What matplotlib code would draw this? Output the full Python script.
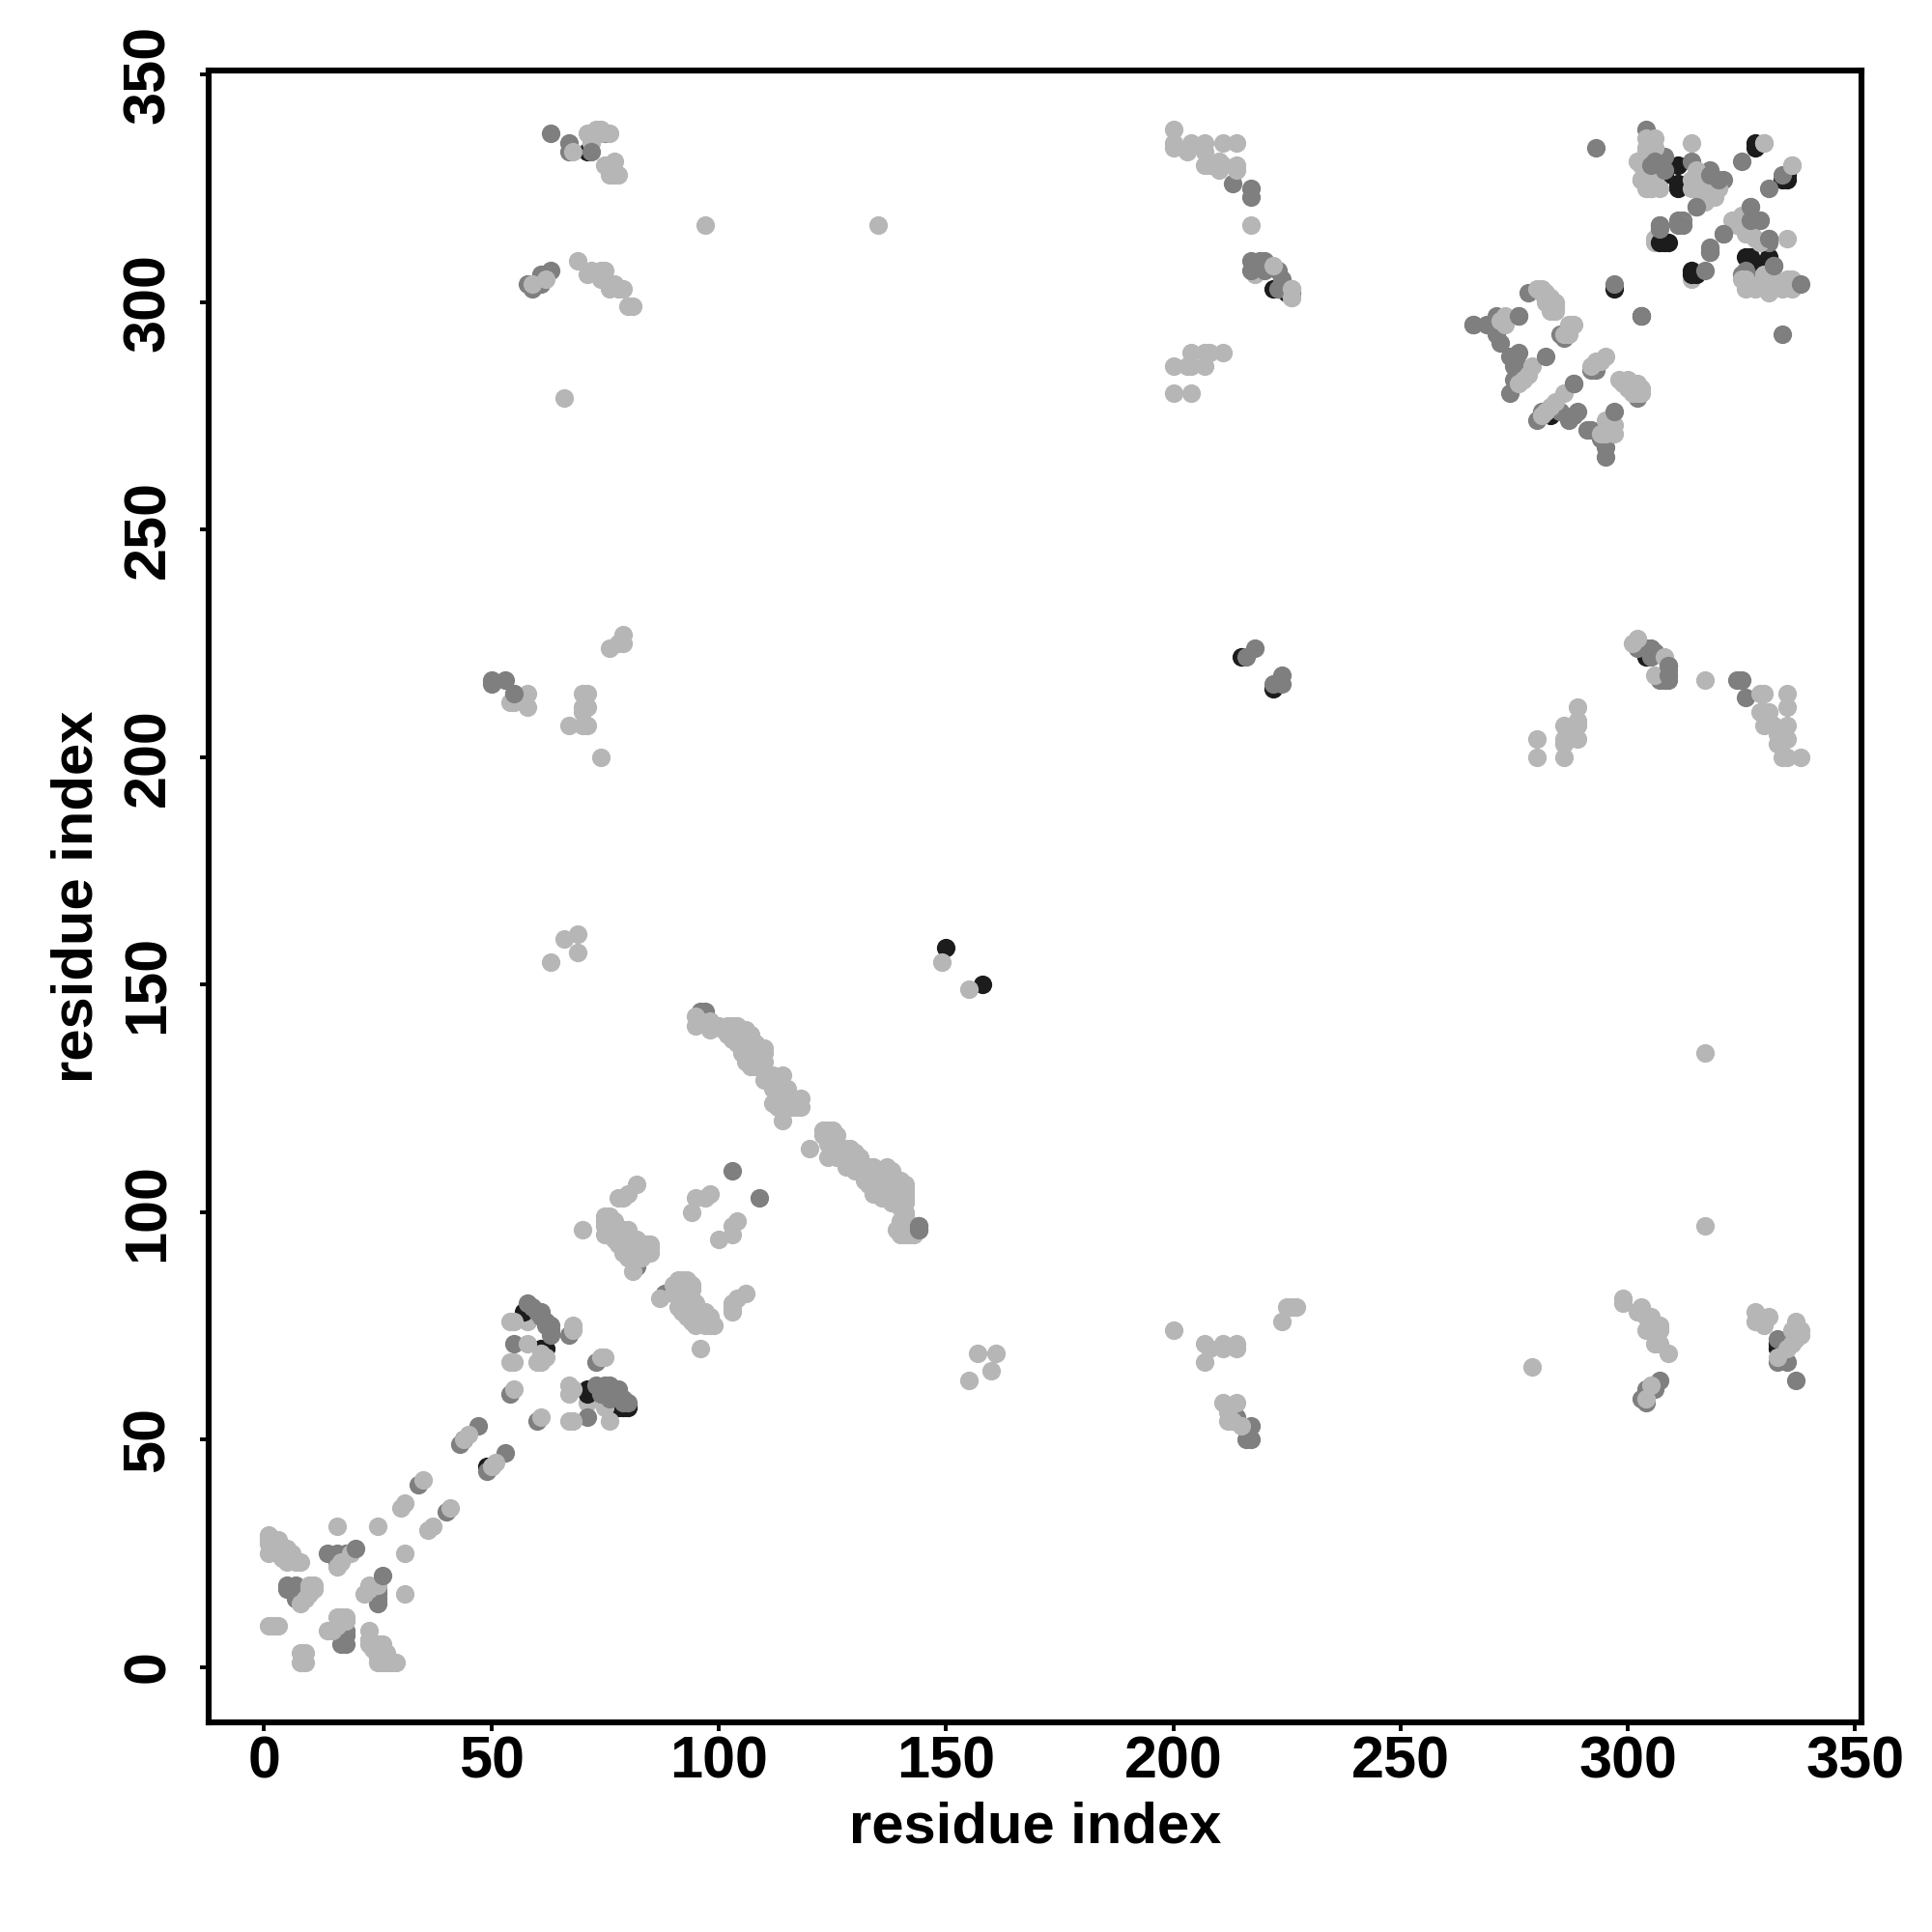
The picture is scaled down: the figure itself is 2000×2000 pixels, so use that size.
import matplotlib
matplotlib.use("Agg")
import matplotlib.pyplot as plt

# contact pairs (i, j), one list per grey level
light_under_pts = [(314,305),(306,314),(306,313),(58,76),(218,306),(71,58)]

dark_pts = [
    (57,78),(62,70),(61,70),(71,61),(71,60),(78,57),(80,57),(79,57),(44,50),(49,44),(150,158),(158,150),
    (71,333),(222,303),(223,303),(225,302),(215,222),(222,215),(304,222),
    (307,328),(308,328),(311,330),(311,326),(311,325),(328,335),(328,334),(335,328),(335,327),(334,327),
    (331,310),(326,310),(327,310),(329,308),(328,307),(314,307),(314,306),(315,306),(307,313),(308,313),(309,313),
    (297,303),(303,297),(276,284),(283,275),(333,71),(334,71),(333,70),
]

mid_pts = [
    (5,18),(5,17),(7,18),(7,15),(6,17),(14,25),(16,25),(18,25),(16,23),(25,17),(25,15),(25,14),(25,16),
    (17,8),(18,8),(17,7),(18,7),(17,5),(18,5),(34,40),(40,34),(43,49),(49,43),(50,44),(47,53),(53,47),
    (55,71),(54,60),(60,54),(67,73),(73,67),(71,55),(82,88),(88,82),(96,144),(97,144),
    (103,109),(109,103),(144,97),(144,96),
    (63,337),(67,335),(67,333),(75,337),(63,307),(61,306),(61,304),(58,304),(59,303),
    (213,326),(217,325),(217,323),(217,309),(217,307),(219,309),(220,309),(220,307),(223,307),(224,305),(223,303),(225,303),
    (214,55),(217,53),(216,50),(217,50),(218,224),(216,222),(224,218),(224,216),(222,216),
    (50,217),(50,216),(53,217),(55,214),(302,224),(304,224),(305,224),(306,223),(305,222),(309,220),(309,219),(307,217),(308,217),(309,217),
    (324,217),(325,217),(326,213),(307,63),(306,61),(304,61),(303,59),(304,58),(333,72),(333,67),(335,67),(337,63),
    (293,334),(304,338),(303,327),(304,326),(305,325),(308,332),(314,331),(318,329),(318,327),(321,327),(315,321),(325,331),
    (334,328),(331,325),(327,321),(327,318),(329,318),(321,315),(331,314),(331,313),(318,311),(318,312),(317,307),(312,318),(311,318),(307,317),(307,316),
    (332,308),(326,307),(325,306),(326,304),(328,305),
    (266,295),(269,295),(271,297),(271,293),(276,297),(272,291),(274,288),(276,289),(275,286),(276,286),
    (278,302),(285,293),(286,292),(292,285),(293,285),(275,283),(274,280),(288,282),(280,274),(281,276),
    (285,276),(289,276),(287,274),(288,275),(291,272),(292,272),(294,270),(295,268),(295,266),(302,279),
]

light_pts = [
    (1,29),(1,28),(1,27),(1,25),(2,27),(3,28),(3,25),(4,24),(5,26),(5,23),(6,25),(7,23),(8,23),
    (1,9),(2,9),(3,9),(8,1),(9,1),(8,3),(9,3),
    (10,18),(11,18),(10,17),(11,17),(10,16),(9,15),(8,14),
    (16,22),(17,23),(19,25),(16,31),(25,31),(31,25),(31,16),(22,16),(23,18),(23,17),(25,18),
    (14,8),(16,11),(17,11),(18,11),(17,10),(18,10),(16,9),(15,8),
    (23,8),(23,6),(23,5),(24,4),(25,5),(26,5),(27,3),(25,2),(25,1),(26,1),(27,1),(28,1),(29,1),
    (35,41),(30,35),(31,36),(41,35),(36,30),(37,31),(45,51),(44,50),(51,45),(50,44),
    (54,76),(55,76),(58,71),(54,67),(55,67),(60,67),(61,67),(62,68),(61,69),(68,75),(68,74),
    (55,61),(61,55),(75,68),(74,68),
    (67,60),(68,61),(67,62),(67,54),(68,54),(76,54),(75,57),
    (82,106),(80,104),(78,103),(79,103),(70,96),(76,99),(75,97),(75,95),(77,97),(76,96),(78,96),(80,96),(77,94),(79,94),(78,93),
    (75,99),(75,98),(76,98),(77,98),(76,97),(77,95),(78,95),(79,96),(78,94),(80,93),(81,93),(81,94),(83,93),(83,92),(84,93),(84,91),
    (80,92),(81,91),(82,90),(85,92),(79,93),(83,91),
    (82,94),(81,92),(85,93),(85,91),(82,91),(79,91),(80,90),(84,92),(83,90),(81,87),
    (87,81),(92,85),(93,85),(91,84),(91,82),(93,82),(92,80),(91,79),(95,80),(94,78),(93,77),(97,78),(95,75),(96,76),(99,75),(97,75),(98,76),
    (91,85),(94,84),(90,84),(92,83),(90,82),(91,83),(93,83),(94,83),(92,82),(92,81),(94,81),(93,80),(94,80),(95,79),(93,79),(95,78),(96,78),
    (92,78),(94,77),(95,77),(96,77),(98,77),(94,76),(97,76),(98,75),
    (96,70),(106,82),(104,81),(103,80),(103,78),(103,79),
    (98,104),(95,103),(97,103),(94,100),(104,98),(103,97),(103,95),(100,94),
    (95,143),(95,141),(96,142),(98,142),(98,140),(102,141),(103,140),(104,141),(106,140),(107,139),(102,139),(104,137),(105,136),(106,137),(108,137),
    (100,141),(101,140),(103,141),(105,140),(105,139),(103,138),(104,139),(106,138),(107,137),(105,135),(106,135),(107,135),(108,135),(109,136),
    (107,134),(108,134),(109,133),(108,132),(109,132),(110,131),(111,130),(111,129),(112,130),(113,128),(112,128),(115,127),(114,126),(113,125),
    (113,124),(115,124),(115,123),(116,123),(117,124),(113,123),
    (110,136),(110,135),(109,134),(107,132),(106,133),(108,133),(110,133),(110,129),(114,130),(112,127),(114,127),(113,129),(112,124),(114,125),(116,124),
    (118,125),(118,123),(117,123),(114,123),(114,120),
    (120,114),(123,118),(125,118),(123,117),(125,116),(124,115),(124,112),(125,113),(128,114),(130,113),(128,110),(130,111),(132,107),(132,110),
    (124,117),(124,118),(126,117),(125,115),(126,114),(127,114),(126,112),(127,112),(128,112),(129,112),(129,114),(131,112),(130,109),(131,110),
    (133,110),(133,108),(132,108),(133,106),(134,105),(135,108),(136,109),(136,107),(138,109),(138,107),(135,104),(137,105),(139,105),(140,107),
    (141,106),(141,105),(139,103),(140,103),(141,103),(136,103),(138,102),(140,101),(141,100),(141,99),(139,96),(143,95),(142,97),(143,96),
    (134,110),(137,110),(134,107),(135,106),(137,108),(139,107),(141,104),(141,102),(139,102),(137,103),(134,104),(140,105),(136,105),(138,104),
    (140,98),(141,95),(140,95),(142,95),(143,97),(142,96),
    (68,333),(71,337),(72,335),(73,338),(74,338),(74,337),(76,337),(77,331),(75,330),(76,330),(76,328),(77,328),(78,328),
    (59,304),(62,305),(69,309),(71,306),(72,307),(74,307),(75,307),(74,305),(76,304),(77,304),(76,303),(78,303),(79,303),(80,299),(81,299),
    (66,279),(97,317),(135,317),(317,135),(317,97),(149,155),(155,149),
    (66,160),(69,161),(69,157),(63,155),(157,69),(161,69),(160,65),(155,63),(200,74),(279,66),
    (200,338),(200,335),(200,334),(203,333),(204,335),(207,335),(207,333),(211,335),(214,335),(207,330),(208,330),(210,331),(210,329),(211,330),(214,330),(214,329),
    (217,317),(222,308),(226,303),(226,301),
    (204,289),(207,289),(208,289),(211,289),(200,286),(203,286),(204,286),(207,286),(200,280),(204,280),
    (280,200),(280,204),(286,200),(286,204),(286,203),(286,207),(287,204),(289,204),(289,207),(289,208),(289,211),(288,206),
    (302,226),(301,225),(308,222),(306,218),(317,217),
    (329,214),(330,214),(335,214),(335,211),(329,210),(330,210),(331,210),(330,207),(332,207),(335,207),(331,208),(333,205),(333,203),(335,204),(334,200),(335,200),(338,200),
    (79,227),(79,225),(78,225),(76,224),(54,212),(55,212),(58,214),(58,211),
    (70,214),(71,214),(70,211),(71,211),(70,210),(67,207),(70,207),(71,207),(74,200),
    (224,76),(225,79),(226,79),(227,79),(207,71),(207,67),(211,71),(211,70),(214,71),(214,70),(208,70),
    (211,58),(214,58),(212,56),(212,54),(213,54),(215,53),
    (299,80),(299,81),(302,78),(303,79),(304,77),(305,77),(304,74),(307,75),(307,74),(306,71),(307,71),(309,69),(306,73),
    (305,62),(304,59),(328,78),(328,76),(329,77),(331,77),(330,75),(337,76),(338,74),(338,73),(336,74),(336,71),(335,70),(337,72),(333,68),
    (304,336),(306,336),(306,334),(304,334),(304,333),(305,335),(314,335),
    (302,331),(303,330),(304,329),(303,327),(304,325),(305,325),(306,327),(307,325),
    (315,329),(315,327),(315,325),(314,327),(314,325),(316,324),(317,322),(319,326),(319,325),(317,323),(318,324),
    (316,326),(316,328),(317,325),(318,325),(319,323),(320,325),
    (330,335),(336,330),(325,319),(323,318),(324,317),(326,315),(328,314),(335,314),(327,316),(329,313),
    (312,317),(325,305),(326,305),(326,303),(328,303),(329,304),(331,302),(331,303),(332,305),(335,305),(336,305),(334,303),(336,303),(330,306),
    (280,303),(281,303),(282,302),(283,300),(284,298),(282,300),(283,298),(281,302),(282,301),(283,301),(284,299),(284,300),
    (273,297),(273,295),(272,296),(288,295),(287,295),(286,293),(287,293),(295,288),(294,287),(292,286),(293,287),
    (298,283),(300,283),(302,282),(303,280),(302,280),(300,281),(301,281),(299,282),(300,282),(301,280),(302,281),(303,281),(301,282),
    (279,286),(278,284),(277,283),(276,282),(286,280),(284,278),(282,276),(281,275),(283,277),
    (297,273),(297,271),(295,274),(294,271),(295,271),(296,272),
]

# these sit on top of the light points in the picture
mid_top_pts = [
    (20,26),(26,20),(58,80),(59,79),(60,78),(61,78),(61,77),(62,76),(62,75),(63,75),(63,74),(63,73),
    (72,333),(73,62),(75,62),(74,60),(76,62),(77,61),(76,59),(77,60),(78,61),(78,60),(79,59),(80,58),(79,58),
    (226,302),(297,304),(303,297),(338,304),(297,276),(282,288),(288,282),(276,297),(266,295),
    (55,214),(309,220),(309,218),(144,97),(144,96),(327,321),(331,314),(318,311),(334,293),(311,317),(312,317),
    (307,317),(320,327),(306,331),(308,329),(318,328),(315,321),(321,315),(327,318),(329,318),(332,308),(305,330),
]

light_top_pts = [(226,303),(226,301),(330,335),(336,330)]

grey_dark = "#1c1c1c"
grey_mid = "#7f7f7f"
grey_light = "#b6b6b6"

x_ticks = [0, 50, 100, 150, 200, 250, 300, 350]
y_ticks = [0, 50, 100, 150, 200, 250, 300, 350]

plt.rcParams["font.family"] = ["Liberation Sans", "DejaVu Sans"]
plt.rcParams["font.weight"] = "bold"

fig = plt.figure(figsize=(10, 10), dpi=200)
ax = fig.add_axes([0.108, 0.1085, 0.8555, 0.855])

layers = [(light_under_pts, grey_light), (dark_pts, grey_dark), (mid_pts, grey_mid), (light_pts, grey_light),
          (mid_top_pts, grey_mid), (light_top_pts, grey_light)]
for pts, col in layers:
    ax.scatter([p[0] for p in pts], [p[1] for p in pts], s=48, color=col, linewidths=0)

ax.set_xlim(-12.2, 351.4)
ax.set_ylim(-12.2, 350.9)
ax.set_xticks(x_ticks)
ax.set_yticks(y_ticks)
ax.tick_params(axis="both", length=3.2, width=1.4, labelsize=22)
ax.tick_params(axis="x", pad=1.5)
ax.tick_params(axis="y", pad=8.7)
for lab in ax.get_yticklabels():
    lab.set_rotation(90)
    lab.set_va("center")
for s in ax.spines.values():
    s.set_linewidth(2.2)

ax.set_xlabel("residue index", fontsize=21.5, fontweight="bold", labelpad=4)
ax.set_ylabel("residue index", fontsize=21.5, fontweight="bold", labelpad=6.7)

fig.savefig("out.png", dpi=200, facecolor="white")
